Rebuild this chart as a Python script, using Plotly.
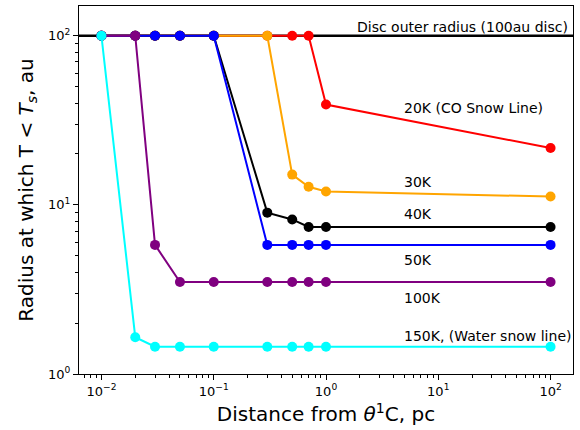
import math
import plotly.graph_objects as go

distance_pc = [0.01, 0.02, 0.03, 0.05, 0.1, 0.3, 0.5, 0.7, 1.0, 100]
r_20K = [100, 100, 100, 100, 100, 100, 100, 100, 39.2, 21.7]
r_30K = [100, 100, 100, 100, 100, 100, 15.1, 12.8, 12.0, 11.2]
r_40K = [100, 100, 100, 100, 100, 9.0, 8.2, 7.4, 7.4, 7.4]
r_50K = [100, 100, 100, 100, 100, 5.8, 5.8, 5.8, 5.8, 5.8]
r_100K = [100, 100, 5.8, 3.5, 3.5, 3.5, 3.5, 3.5, 3.5, 3.5]
r_150K = [100, 1.65, 1.45, 1.45, 1.45, 1.45, 1.45, 1.45, 1.45, 1.45]

disc_radius = 100

series = [
    ("20K", r_20K, "red"),
    ("30K", r_30K, "orange"),
    ("40K", r_40K, "black"),
    ("50K", r_50K, "blue"),
    ("100K", r_100K, "purple"),
    ("150K", r_150K, "cyan"),
]

labels = [
    ("20K (CO Snow Line)", 5, 37.5),
    ("30K", 5, 13.6),
    ("40K", 5, 8.87),
    ("50K", 5, 4.75),
    ("100K", 5, 2.83),
    ("150K, (Water snow line)", 5, 1.68),
]

x_ticks = [0.01, 0.1, 1, 10, 100]
x_ticktext = ["10<sup>\u22122</sup>", "10<sup>\u22121</sup>", "10<sup>0</sup>", "10<sup>1</sup>", "10<sup>2</sup>"]
y_ticks = [1, 10, 100]
y_ticktext = ["10<sup>0</sup>", "10<sup>1</sup>", "10<sup>2</sup>"]

fig = go.Figure()
for name, vals, col in series:
    fig.add_trace(go.Scatter(
        x=distance_pc, y=vals, mode="lines+markers", name=name,
        line=dict(color=col, width=2),
        marker=dict(color=col, size=10),
        showlegend=False,
    ))

fig.add_shape(type="line", xref="paper", x0=0, x1=1, yref="y",
              y0=disc_radius, y1=disc_radius,
              line=dict(color="black", width=2.5), layer="below")

font_family = "DejaVu Sans"
fig.add_annotation(x=1, xref="paper", y=math.log10(112), yref="y",
                   text="Disc outer radius (100au disc)", showarrow=False,
                   xanchor="right", yanchor="middle", xshift=-3,
                   font=dict(size=14, color="black", family=font_family))
for txt, lx, ly in labels:
    fig.add_annotation(x=math.log10(lx), y=math.log10(ly), text=txt,
                       showarrow=False, xanchor="left", yanchor="middle", xshift=-2,
                       font=dict(size=14, color="black", family=font_family))

minor_x = [m * 10 ** e for e in range(-3, 3) for m in range(2, 10)]
minor_y = [m * 10 ** e for e in range(0, 3) for m in range(2, 10)]

fig.update_xaxes(type="log", range=[-2.2, 2.2],
                 tickvals=x_ticks, ticktext=x_ticktext,
                 ticks="outside", ticklen=5, tickcolor="black",
                 showline=True, linecolor="black", linewidth=1, mirror=True,
                 showgrid=False, zeroline=False,
                 minor=dict(tickvals=minor_x, ticks="outside", ticklen=3, tickcolor="black", showgrid=False),
                 tickfont=dict(size=13, color="black", family=font_family),
                 title=dict(text="Distance from <i>\u03b8</i><sup>1</sup>C, pc",
                            font=dict(size=20, color="black", family=font_family), standoff=9))
fig.update_yaxes(type="log", range=[0, math.log10(150)],
                 tickvals=y_ticks, ticktext=y_ticktext,
                 ticks="outside", ticklen=5, tickcolor="black",
                 showline=True, linecolor="black", linewidth=1, mirror=True,
                 showgrid=False, zeroline=False,
                 minor=dict(tickvals=minor_y, ticks="outside", ticklen=3, tickcolor="black", showgrid=False),
                 tickfont=dict(size=13, color="black", family=font_family),
                 title=dict(text="Radius at which T &lt; <i>T<sub>s</sub></i>, au",
                            font=dict(size=20, color="black", family=font_family), standoff=9))

fig.update_layout(width=580, height=430,
                  margin=dict(l=79, r=7, t=6, b=56),
                  plot_bgcolor="white", paper_bgcolor="white",
                  font=dict(family=font_family))

fig.write_html("out.html")
